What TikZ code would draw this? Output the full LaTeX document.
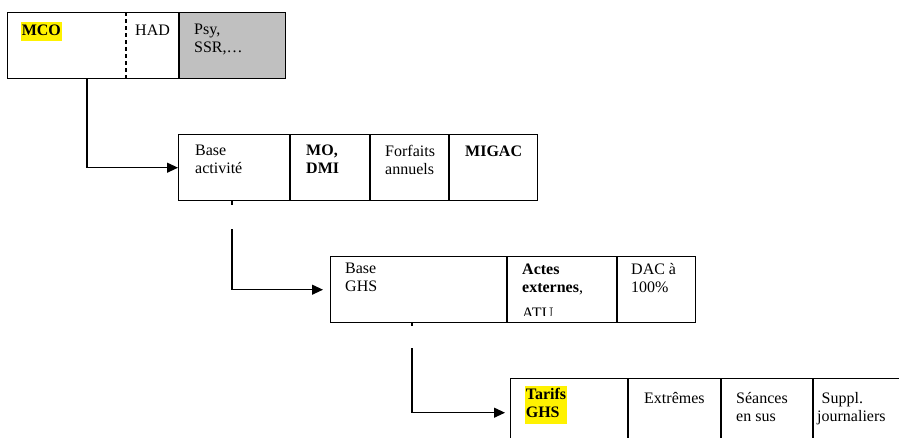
\documentclass[tikz,border=0pt]{standalone}
\usepackage{fontspec}
\setmainfont{Liberation Serif}
\usetikzlibrary{arrows.meta}
\definecolor{cellgray}{RGB}{192,192,192}
\begin{document}
\begin{tikzpicture}[x=1pt,y=-1pt,
  cellbox/.style={draw=black,line width=1.4pt,rectangle,inner sep=0pt,anchor=north west},
  divider/.style={line width=1.4pt},
  conn/.style={line width=1.1pt},
  arr/.style={line width=1.1pt,-{Triangle[length=11pt,width=10pt]}},
  txt/.style={inner sep=0pt,anchor=north west,align=left,font=\fontsize{16}{18}\selectfont},
  hl/.style={fill=yellow,inner xsep=0.6pt,inner ysep=0.8pt,align=left,font=\fontsize{16}{18}\selectfont\bfseries}]
\useasboundingbox (0,0) rectangle (899,437);
\clip (0,0) rectangle (899,437);
% box 1
\fill[cellgray] (179,12) rectangle (285,78);
\node[cellbox,minimum width=278pt,minimum height=66pt] (mco) at (7,12) {};
\draw[divider,dash pattern=on 4pt off 3pt] (126,12) -- (126,78);
\draw[divider] (179,12) -- (179,78);
\node[hl,anchor=base west] (tmco) at (21,35) {\strut MCO};
\node[txt,anchor=base west] (thad) at (135,35) {HAD};
\node[txt] (tpsy) at (194,24) {Psy,\\SSR,…};
% box 2
\node[cellbox,minimum width=359pt,minimum height=66pt] (base) at (178,134) {};
\draw[divider] (290,134) -- (290,200);
\draw[divider] (370,134) -- (370,200);
\draw[divider] (449,134) -- (449,200);
\node[txt] (tbase) at (195,145) {Base\\activité};
\node[txt,font=\fontsize{16}{18}\selectfont\bfseries] (tmo) at (306,145) {MO,\\DMI};
\node[txt] (tforf) at (385,145) {Forfaits\\annuels};
\node[txt,font=\fontsize{16}{18}\selectfont\bfseries] (tmig) at (465,146) {MIGAC};
% box 3
\node[cellbox,minimum width=365pt,minimum height=66pt] (ghs) at (330,256) {};
\draw[divider] (507,256) -- (507,322);
\draw[divider] (617,256) -- (617,322);
\node[txt] (tbghs) at (345,263) {Base\\GHS};
\node[txt] (tactes) at (522,264) {\textbf{Actes}\\\textbf{externes},};
\begin{scope}
\clip (507,256) rectangle (617,315.5);
\node[txt] (tatu) at (522,308) {ATU};
\end{scope}
\node[txt] (tdac) at (631,263) {DAC à\\100\%};
% box 4
\node[cellbox,minimum width=400pt,minimum height=68pt] (tarifs) at (510,378) {};
\draw[divider] (628,378) -- (628,446);
\draw[divider] (721,378) -- (721,446);
\draw[divider] (813,378) -- (813,446);
\node[hl,anchor=north west] (ttar) at (525,386) {\strut Tarifs\\\strut GHS};
\node[txt] (text) at (644,392) {Extrêmes};
\node[txt] (tseance) at (736,392) {Séances\\en sus};
\node[txt] (tsupp) at (817,392) {\hspace{4.5pt}Suppl.\\journaliers};
% connectors
\coordinate (a1) at (87,78);
\draw[arr] (a1) |- (base.west);
\coordinate (b0) at (232,200);
\coordinate (b1) at (232,205);
\coordinate (b2) at (232,229);
\draw[conn] (b0) -- (b1);
\draw[arr] (b2) |- ([xshift=-7pt]ghs.west);
\coordinate (c0) at (412,322);
\coordinate (c1) at (412,326);
\coordinate (c2) at (412,348);
\draw[conn] (c0) -- (c1);
\draw[arr] (c2) |- ([xshift=-5pt]tarifs.west);
\end{tikzpicture}
\end{document}
